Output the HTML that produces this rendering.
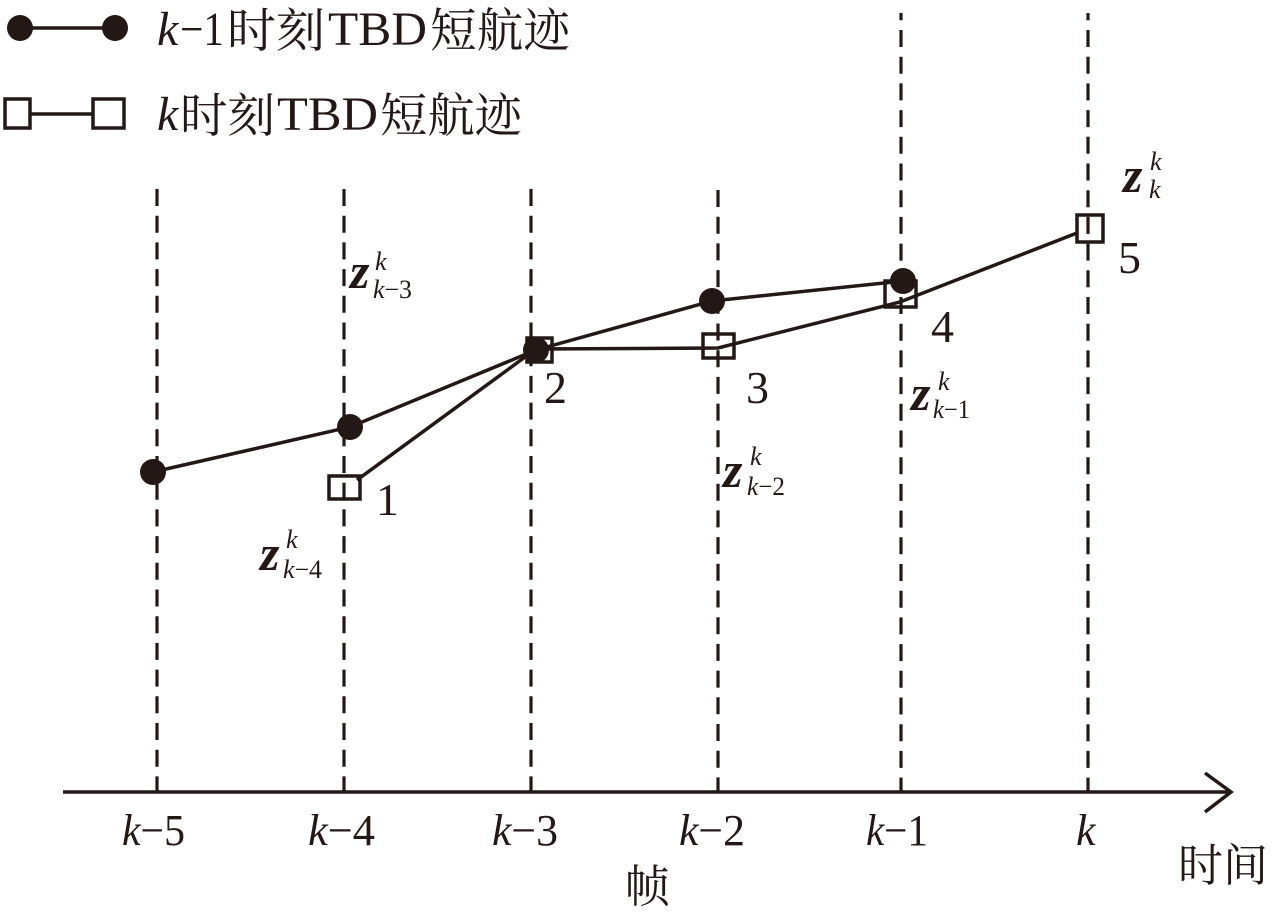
<!DOCTYPE html>
<html>
<head>
<meta charset="utf-8">
<style>
html,body{margin:0;padding:0;background:#fff;}
svg{display:block;}
.lat{font-family:"Liberation Serif",serif;fill:#231815;}
.cjk{font-family:"Liberation Serif","Noto Serif CJK SC","Noto Sans CJK SC",serif;fill:#231815;}
.it{font-style:italic;}
.zb{font-family:"Liberation Serif",serif;font-style:italic;font-weight:bold;fill:#231815;font-size:50px;}
.sm{font-family:"Liberation Serif",serif;fill:#231815;font-size:26px;}
.num{font-family:"Liberation Serif",serif;fill:#231815;font-size:46px;}
</style>
</head>
<body>
<svg width="1280" height="915" viewBox="0 0 1280 915" xmlns="http://www.w3.org/2000/svg">
<!-- Legend -->
<g stroke="#231815" stroke-width="3.5" fill="none">
  <line x1="20" y1="28" x2="115" y2="28"/>
  <line x1="30" y1="114" x2="93" y2="114"/>
  <rect x="5" y="99" width="25" height="29"/>
  <rect x="93" y="99" width="31" height="29"/>
</g>
<circle cx="20" cy="28" r="13" fill="#231815"/>
<circle cx="115" cy="28" r="13" fill="#231815"/>

<text class="lat it" x="157" y="45" font-size="48">k</text>
<text class="lat" x="180" y="45" font-size="48" textLength="44" lengthAdjust="spacingAndGlyphs">−1</text>
<text class="cjk" x="227" y="47" font-size="47" textLength="98" lengthAdjust="spacingAndGlyphs">时刻</text>
<text class="lat" x="328" y="45" font-size="48" textLength="99" lengthAdjust="spacingAndGlyphs">TBD</text>
<text class="cjk" x="430" y="47" font-size="47" textLength="140" lengthAdjust="spacingAndGlyphs">短航迹</text>

<text class="lat it" x="157" y="130" font-size="48">k</text>
<text class="cjk" x="180" y="132" font-size="47" textLength="95" lengthAdjust="spacingAndGlyphs">时刻</text>
<text class="lat" x="277" y="130" font-size="48" textLength="101" lengthAdjust="spacingAndGlyphs">TBD</text>
<text class="cjk" x="380" y="132" font-size="47" textLength="142" lengthAdjust="spacingAndGlyphs">短航迹</text>

<!-- Dashed verticals -->
<g stroke="#231815" stroke-width="3.2" stroke-dasharray="17 9.7">
  <line x1="157" y1="189" x2="157" y2="792"/>
  <line x1="344" y1="189" x2="344" y2="792"/>
  <line x1="531" y1="189" x2="531" y2="792"/>
  <line x1="718" y1="190" x2="718" y2="792"/>
  <line x1="901" y1="13" x2="901" y2="792" stroke-dashoffset="9.7"/>
  <line x1="1088" y1="13" x2="1088" y2="792" stroke-dashoffset="9.7"/>
</g>

<!-- Axis -->
<g stroke="#231815" stroke-width="3.5" fill="none">
  <line x1="63" y1="792" x2="1231" y2="792"/>
  <polyline points="1205,773 1231,792 1205,812"/>
</g>

<!-- Series lines -->
<g stroke="#231815" stroke-width="3.5" fill="none">
  <polyline points="153,472 350,427 536,350 712,301 903,281"/>
  <polyline points="357,480 536,349 718,348 900,302 1077,233"/>
</g>
<!-- Squares -->
<g stroke="#231815" stroke-width="3.5" fill="none">
  <rect x="329" y="476" width="31" height="23"/>
  <rect x="527" y="338" width="25" height="24"/>
  <rect x="703" y="334" width="31" height="24"/>
  <rect x="885" y="281" width="31" height="26"/>
  <rect x="1077" y="215" width="26" height="27"/>
</g>
<!-- Circles -->
<g fill="#231815">
  <circle cx="153" cy="472" r="13"/>
  <circle cx="350" cy="427" r="13"/>
  <circle cx="536" cy="350" r="13"/>
  <circle cx="712" cy="301" r="13"/>
  <circle cx="903" cy="281" r="13"/>
</g>

<!-- Point numbers -->
<text class="num" x="376" y="515">1</text>
<text class="num" x="544" y="403">2</text>
<text class="num" x="746" y="403">3</text>
<text class="num" x="931" y="342">4</text>
<text class="num" x="1118" y="273">5</text>

<!-- z labels -->
<text class="zb" x="350" y="288">z</text>
<text class="sm it" x="375" y="270">k</text>
<text class="sm" x="373" y="298" textLength="39" lengthAdjust="spacingAndGlyphs"><tspan font-style="italic">k</tspan>−3</text>

<text class="zb" x="260" y="570">z</text>
<text class="sm it" x="286" y="548">k</text>
<text class="sm" x="283" y="578" textLength="39" lengthAdjust="spacingAndGlyphs"><tspan font-style="italic">k</tspan>−4</text>

<text class="zb" x="723" y="487">z</text>
<text class="sm it" x="750" y="465">k</text>
<text class="sm" x="747" y="495" textLength="38" lengthAdjust="spacingAndGlyphs"><tspan font-style="italic">k</tspan>−2</text>

<text class="zb" x="911" y="410">z</text>
<text class="sm it" x="938" y="390">k</text>
<text class="sm" x="933" y="418" textLength="37" lengthAdjust="spacingAndGlyphs"><tspan font-style="italic">k</tspan>−1</text>

<text class="zb" x="1123" y="192">z</text>
<text class="sm it" x="1150" y="170">k</text>
<text class="sm it" x="1149" y="198">k</text>

<!-- Tick labels -->
<g class="lat" font-size="44">
  <text x="122" y="845" textLength="63" lengthAdjust="spacingAndGlyphs"><tspan font-style="italic">k</tspan>−5</text>
  <text x="308" y="845" textLength="67" lengthAdjust="spacingAndGlyphs"><tspan font-style="italic">k</tspan>−4</text>
  <text x="492" y="845" textLength="66" lengthAdjust="spacingAndGlyphs"><tspan font-style="italic">k</tspan>−3</text>
  <text x="679" y="845" textLength="66" lengthAdjust="spacingAndGlyphs"><tspan font-style="italic">k</tspan>−2</text>
  <text x="866" y="845" textLength="62" lengthAdjust="spacingAndGlyphs"><tspan font-style="italic">k</tspan>−1</text>
  <text x="1076" y="845" font-style="italic">k</text>
</g>

<text class="cjk" x="1178" y="881" font-size="45" textLength="90" lengthAdjust="spacingAndGlyphs">时间</text>
<text class="cjk" x="625" y="902" font-size="45">帧</text>
</svg>
</body>
</html>
